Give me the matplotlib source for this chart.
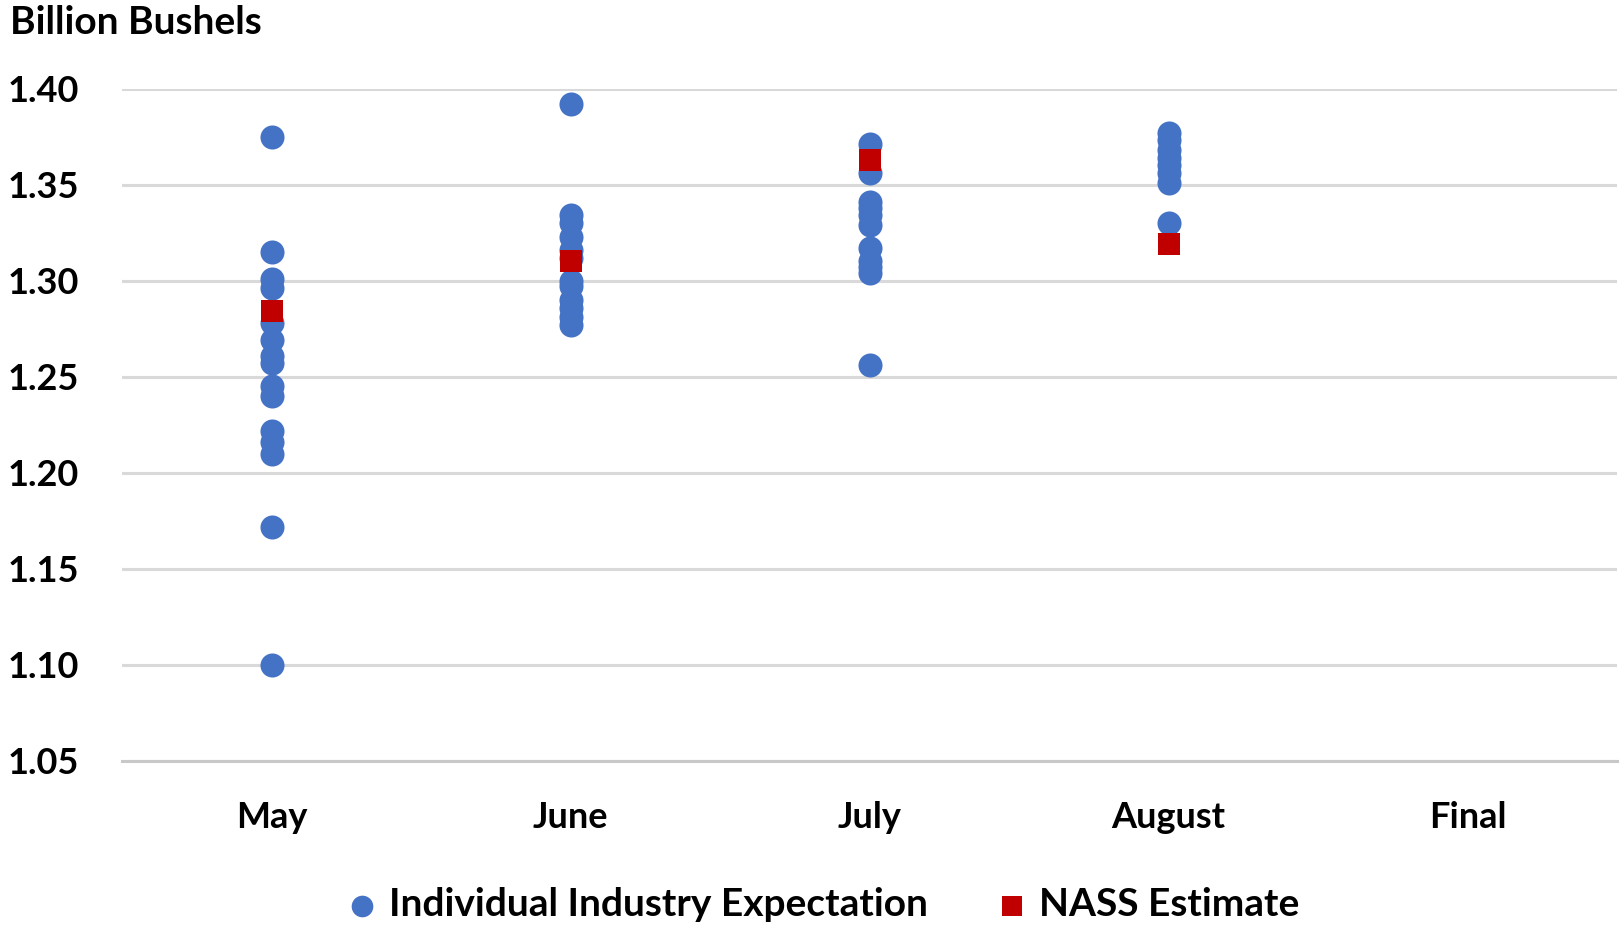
import matplotlib
matplotlib.use("Agg")
import matplotlib.pyplot as plt

categories = ["May", "June", "July", "August", "Final"]

may_exp = [1.375, 1.315, 1.301, 1.296, 1.278, 1.269, 1.261, 1.257, 1.245, 1.240,
           1.222, 1.216, 1.210, 1.172, 1.100]
june_exp = [1.392, 1.334, 1.330, 1.323, 1.316, 1.312, 1.300, 1.297, 1.290, 1.286,
            1.281, 1.277]
july_exp = [1.371, 1.356, 1.341, 1.338, 1.334, 1.329, 1.317, 1.310, 1.307, 1.304,
            1.256]
august_exp = [1.377, 1.373, 1.368, 1.364, 1.360, 1.356, 1.351, 1.330]
final_exp = []
industry = [may_exp, june_exp, july_exp, august_exp, final_exp]

nass = [1.284, 1.310, 1.363, 1.319]

yticks = [1.05, 1.10, 1.15, 1.20, 1.25, 1.30, 1.35, 1.40]
ylabel_text = "Billion Bushels"

BLUE = "#4472C4"
RED = "#C00000"
FONT = "Lato"

plt.rcParams["font.family"] = [FONT, "DejaVu Sans"]
plt.rcParams["font.weight"] = "bold"

fig = plt.figure(figsize=(16.21, 9.25), dpi=100)
ax = fig.add_axes([122 / 1621, 1 - 760.9 / 925, (1617 - 122) / 1621, (760.9 - 88.6) / 925])

for i, vals in enumerate(industry):
    if vals:
        ax.scatter([i] * len(vals), vals, s=300, color=BLUE, marker="o",
                   linewidths=0, zorder=3,
                   label="Individual Industry Expectation" if i == 0 else None)
ax.scatter(range(len(nass)), nass, s=260, color=RED, marker="s", linewidths=0,
           zorder=4, label="NASS Estimate")

ax.set_xlim(-0.5, len(categories) - 0.5)
ax.set_ylim(1.05, 1.40)
ax.set_yticks(yticks)
ax.set_yticklabels([f"{t:.2f}" for t in yticks])
ax.set_xticks(range(len(categories)))
ax.set_xticklabels(categories)
ax.tick_params(axis="both", length=0, labelsize=26)
ax.tick_params(axis="y", pad=31)
ax.tick_params(axis="x", pad=29)
for lab in ax.get_xticklabels() + ax.get_yticklabels():
    lab.set_fontweight("bold")

ax.grid(axis="y", color="#D9D9D9", linewidth=2.2, zorder=0)
ax.set_axisbelow(True)
for s in ["top", "right", "left"]:
    ax.spines[s].set_visible(False)
ax.spines["bottom"].set_color("#C8C8C8")
ax.spines["bottom"].set_linewidth(2.2)
ax.spines["bottom"].set_zorder(1)

fig.text(10 / 1621, 1 - 23 / 925, ylabel_text, fontsize=28, fontweight="bold",
         ha="left", va="center")

leg = fig.legend(loc="center", bbox_to_anchor=(0.5005, 1 - 905 / 925), ncol=2,
                 frameon=False, fontsize=28, handletextpad=-0.3, columnspacing=1.15,
                 markerscale=0.9)
for t in leg.get_texts():
    t.set_fontweight("bold")

fig.savefig("out.png", dpi=100)
